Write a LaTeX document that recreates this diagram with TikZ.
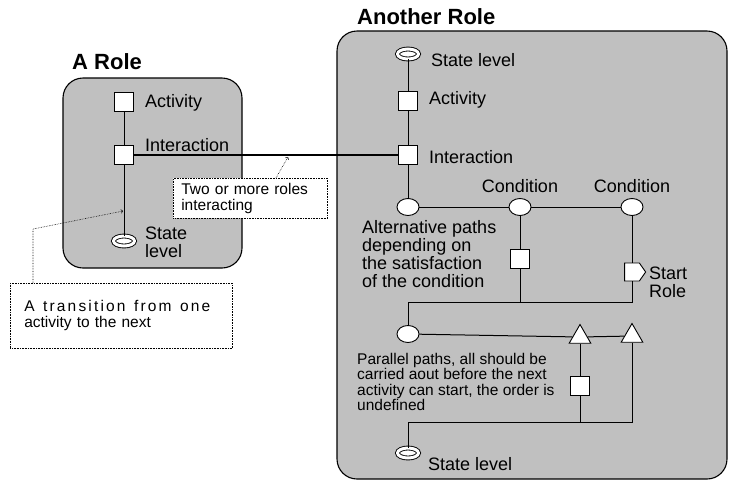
\documentclass[tikz,border=0pt]{standalone}
\usepackage{fontspec}
\setmainfont{Liberation Sans}
\usetikzlibrary{shapes.geometric,shapes.symbols,positioning}
\definecolor{rolegray}{RGB}{192,192,192}
\tikzset{
  role/.style={draw, fill=rolegray, rounded corners=20pt, line width=1.1pt},
  flow/.style={line width=1pt},
  act/.style={draw, fill=white, minimum size=19.5pt, inner sep=0pt, line width=0.9pt},
  cond/.style={draw, fill=white, ellipse, minimum width=22pt, minimum height=17pt, inner sep=0pt, line width=0.9pt},
  statelvl/.style={draw, fill=white, ellipse, double, double distance=3pt, line width=0.9pt, minimum width=21pt, minimum height=10pt, inner sep=0pt},
  parl/.style={draw, fill=white, regular polygon, regular polygon sides=3, minimum size=25pt, inner sep=0pt, line width=0.9pt},
  startrole/.style={draw, fill=white, signal, signal to=east, signal pointer angle=110, minimum width=21pt, minimum height=18pt, inner sep=0pt, line width=0.9pt},
  lbl/.style={font=\fontsize{18}{18}\selectfont, align=left, inner sep=0pt},
  title/.style={font=\fontsize{22}{24}\selectfont\bfseries, inner sep=0pt},
  note/.style={draw, densely dotted, line width=0.6pt, fill=white, align=left, font=\fontsize{15.5}{16}\selectfont},
  notearrow/.style={densely dotted, line width=0.6pt, ->},
}
\begin{document}
\begin{tikzpicture}[x=1pt,y=-1pt]
\fill[white] (0,0) rectangle (735,483);
\useasboundingbox (0,0) rectangle (735,483);
% role containers
\draw[role] (63,78) rectangle (242,268);
\draw[role] (337,31) rectangle (727,479);
\node[title, anchor=west] (tA) at (72,62) {A Role};
\node[title, anchor=west] (tB) at (357,17) {Another Role};

% A Role
\node[act] (lact) at (124,102) {};
\node[act] (lint) at (124,155) {};
\node[statelvl] (lst) at (124,241) {};
\node[lbl, anchor=west] (llact) at (145,103) {Activity};
\node[lbl, anchor=west] (llint) at (145,145) {Interaction};
\node[lbl, anchor=west] (llst) at (145,242) {State\\level};
\draw[flow] (lact) -- (lint) -- (lst);

% Another Role
\node[statelvl] (rst) at (408,54) {};
\node[act] (ract) at (408,101) {};
\node[act] (rint) at (408,155) {};
\node[cond] (alt) at (408,207) {};
\node[cond] (c1) at (520,207) {};
\node[cond] (c2) at (632,207) {};
\node[act] (ract2) at (520,259) {};
\node[startrole] (srole) at (632,272) {};
\coordinate (j1) at (520,302);
\coordinate (j2) at (632,302);
\coordinate (jl) at (408,302);
\node[cond] (par) at (408,334) {};
\node[parl] (tr1) at (580,337) {};
\node[parl] (tr2) at (632,336) {};
\node[act] (ract3) at (580,386) {};
\coordinate (k1) at (580,422);
\coordinate (k2) at (632,422);
\coordinate (kl) at (408,422);
\node[statelvl] (rend) at (408,453) {};

\draw[flow] (rst) -- (ract) -- (rint) -- (alt) -- (c1) -- (c2);
\draw[flow] (c1) -- (ract2) -- (j1);
\draw[flow] (c2) -- (srole) -- (j2) -- (jl) -- (par);
\draw[flow] (par) -- (tr1) -- (tr2);
\draw[flow] (tr1) -- (ract3) -- (k1);
\draw[flow] (tr2) -- (k2) -- (kl) -- (rend);

\node[lbl, anchor=west] (lrst) at (431,60) {State level};
\node[lbl, anchor=west] (lract) at (429,100) {Activity};
\node[lbl, anchor=west] (lrint) at (429,157) {Interaction};
\node[lbl, above=5pt of c1] (lc1) {Condition};
\node[lbl, above=5pt of c2] (lc2) {Condition};
\node[lbl, anchor=west] (lsrole) at (649,282) {Start\\Role};
\node[lbl, anchor=west] (lalt) at (362,254) {Alternative paths\\depending on\\the satisfaction\\of the condition};
\node[lbl, anchor=west, font=\fontsize{15.5}{15.5}\selectfont] (lpar) at (357,382)
  {Parallel paths, all should be\\carried aout before the next\\activity can start, the order is\\undefined};
\node[lbl, anchor=west] (lrend) at (428,464) {State level};

% interaction between the roles
\draw[line width=2pt] (lint) -- (rint);

% notes
\node[note, anchor=north west, text width=194pt, inner xsep=14pt, minimum height=65pt] (n1) at (10,283)
  {{\addfontfeature{LetterSpace=14}\spaceskip=8.5pt A transition from one}\\activity to the next};
\node[note, anchor=north west, text width=138pt, inner xsep=8pt, minimum height=40pt] (n2) at (173,178)
  {Two or more roles\\interacting};
\coordinate (b1) at (33,229);
\coordinate (a1) at (123,211);
\coordinate (a2) at (288,157);
\draw[notearrow] (n1.north west -| b1) -- (b1) -- (a1);
\draw[notearrow] ([xshift=103pt]n2.north west) -- (a2);
\end{tikzpicture}
\end{document}
